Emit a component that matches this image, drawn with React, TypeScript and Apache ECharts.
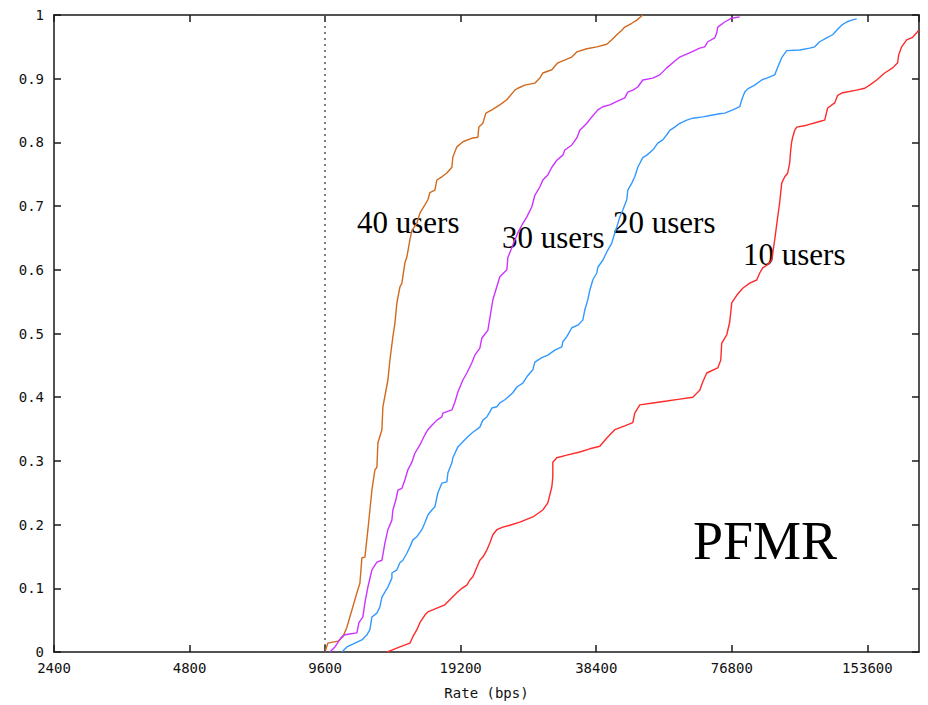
import React, { useEffect, useRef } from "react";
import * as echarts from "echarts";

// Rate axis (bps), drawn on a base-2 logarithmic scale
const RATE_TICKS = [2400, 4800, 9600, 19200, 38400, 76800, 153600];
const RATE_MAX = 200000;
const REFERENCE_RATE = 9600;
const CDF_TICKS = [0, 0.1, 0.2, 0.3, 0.4, 0.5, 0.6, 0.7, 0.8, 0.9, 1];

// Cumulative distribution of per-user rate: [rate (bps), fraction of users]
const USERS_40: [number, number][] = [
  [9590, 0], [9738, 0.014], [10249, 0.017], [10514, 0.024], [10731, 0.039], [11009, 0.066],
  [11294, 0.093], [11468, 0.108], [11586, 0.148], [11765, 0.149], [11947, 0.192], [12070, 0.223],
  [12194, 0.254], [12383, 0.286], [12510, 0.29], [12574, 0.328], [12834, 0.349], [12899, 0.385],
  [13233, 0.427], [13369, 0.458], [13576, 0.495], [13715, 0.516], [13856, 0.548], [14070, 0.573],
  [14215, 0.579], [14434, 0.611], [14582, 0.62], [14808, 0.647], [14960, 0.662], [15347, 0.673],
  [15585, 0.689], [15989, 0.702], [16235, 0.71], [16402, 0.721], [16827, 0.725], [17000, 0.741],
  [17439, 0.746], [17891, 0.752], [18354, 0.761], [18448, 0.777], [18829, 0.793], [19415, 0.801],
  [20433, 0.807], [20962, 0.808], [21069, 0.824], [21504, 0.83], [21837, 0.846], [22517, 0.851],
  [23456, 0.859], [24311, 0.867], [25325, 0.882], [25716, 0.885], [26654, 0.89], [28051, 0.893],
  [28777, 0.901], [29222, 0.909], [30597, 0.914], [31550, 0.925], [33890, 0.934], [34767, 0.942],
  [36590, 0.947], [38508, 0.95], [40528, 0.954], [41576, 0.961], [42652, 0.969], [43757, 0.976],
  [44432, 0.981], [46051, 0.987], [47242, 0.992], [48714, 1],
];

const USERS_30: [number, number][] = [
  [9838, 0], [10093, 0.008], [10460, 0.024], [10622, 0.027], [11294, 0.03], [11410, 0.046],
  [11645, 0.055], [11765, 0.077], [11947, 0.102], [12194, 0.129], [12510, 0.141], [12834, 0.144],
  [13032, 0.171], [13233, 0.192], [13506, 0.207], [13576, 0.223], [13785, 0.239], [13927, 0.254],
  [14215, 0.257], [14434, 0.27], [14657, 0.286], [14960, 0.298], [15191, 0.312], [15585, 0.325],
  [15989, 0.341], [16235, 0.349], [16571, 0.356], [17000, 0.364], [17439, 0.369], [17529, 0.375],
  [18354, 0.38], [18637, 0.392], [18925, 0.408], [19415, 0.427], [19817, 0.438], [20329, 0.454],
  [20643, 0.466], [21177, 0.477], [21395, 0.493], [22061, 0.505], [22633, 0.553], [23456, 0.589],
  [24311, 0.6], [24435, 0.619], [25068, 0.639], [25716, 0.658], [26383, 0.673], [26927, 0.683],
  [27624, 0.699], [28051, 0.717], [28777, 0.73], [29222, 0.741], [29978, 0.749], [30597, 0.761],
  [31389, 0.772], [32367, 0.78], [32699, 0.788], [33890, 0.796], [34767, 0.807], [35304, 0.819],
  [36590, 0.83], [37537, 0.84], [38706, 0.851], [39707, 0.856], [41153, 0.859], [42219, 0.863],
  [44432, 0.87], [45119, 0.879], [46287, 0.882], [47484, 0.887], [48714, 0.898], [51267, 0.901],
  [53134, 0.906], [55070, 0.917], [56785, 0.925], [58852, 0.934], [62575, 0.942], [65186, 0.948],
  [66873, 0.95], [67906, 0.958], [70380, 0.964], [71103, 0.972], [71467, 0.981], [74070, 0.989],
  [76768, 0.995], [79971, 0.997],
];

const USERS_20: [number, number][] = [
  [10460, 0], [10731, 0.008], [11179, 0.014], [11586, 0.019], [11886, 0.027], [12070, 0.035],
  [12194, 0.055], [12510, 0.061], [12703, 0.071], [12834, 0.086], [13032, 0.094], [13233, 0.102],
  [13506, 0.116], [13506, 0.124], [13856, 0.129], [14070, 0.14], [14287, 0.144], [14582, 0.155],
  [14808, 0.165], [15037, 0.176], [15347, 0.181], [15745, 0.192], [15989, 0.203], [16235, 0.215],
  [16571, 0.223], [16827, 0.228], [17087, 0.25], [17439, 0.265], [17891, 0.267], [17983, 0.281],
  [18354, 0.297], [18448, 0.305], [18925, 0.322], [19415, 0.33], [19918, 0.338], [20433, 0.345],
  [21177, 0.353], [21504, 0.364], [21948, 0.369], [22288, 0.377], [22517, 0.383], [23100, 0.385],
  [23456, 0.391], [24063, 0.396], [24435, 0.4], [25068, 0.407], [25585, 0.416], [26383, 0.422],
  [26927, 0.432], [27766, 0.443], [28051, 0.455], [29073, 0.462], [29978, 0.466], [31070, 0.474],
  [32202, 0.479], [32367, 0.487], [33035, 0.495], [33890, 0.509], [34945, 0.513], [35850, 0.521],
  [36218, 0.537], [36777, 0.553], [37155, 0.568], [37729, 0.584], [38508, 0.595], [38706, 0.604],
  [39707, 0.615], [40735, 0.631], [41576, 0.642], [42219, 0.658], [42652, 0.667], [43311, 0.683],
  [43981, 0.694], [44889, 0.71], [45119, 0.725], [46051, 0.736], [46762, 0.746], [47484, 0.761],
  [48714, 0.776], [49720, 0.78], [51267, 0.788], [52594, 0.799], [53955, 0.804], [55070, 0.812],
  [55920, 0.819], [57368, 0.824], [58852, 0.83], [60996, 0.835], [62895, 0.838], [66193, 0.84],
  [69664, 0.843], [72201, 0.845], [74070, 0.846], [77162, 0.851], [79971, 0.856], [80793, 0.867],
  [82041, 0.879], [83309, 0.884], [86343, 0.89], [89488, 0.898], [91803, 0.901], [95635, 0.906],
  [97112, 0.918], [99118, 0.933], [101683, 0.944], [108667, 0.945], [114364, 0.948], [117326, 0.95],
  [120361, 0.958], [124746, 0.964], [128628, 0.969], [131286, 0.976], [134684, 0.984], [138170, 0.989],
  [141746, 0.992], [145415, 0.994],
];

const USERS_10: [number, number][] = [
  [13166, 0], [13506, 0.003], [14070, 0.008], [14808, 0.014], [15037, 0.024], [15347, 0.035],
  [15585, 0.046], [15989, 0.058], [16235, 0.063], [17000, 0.069], [17709, 0.074], [18167, 0.082],
  [18829, 0.093], [19316, 0.1], [19817, 0.105], [20122, 0.113], [20433, 0.118], [20855, 0.133],
  [21177, 0.144], [21504, 0.149], [21948, 0.16], [22288, 0.171], [22633, 0.184], [23100, 0.192],
  [23819, 0.196], [24686, 0.199], [25981, 0.204], [27766, 0.212], [29222, 0.223], [29978, 0.234],
  [30597, 0.259], [30754, 0.275], [30754, 0.298], [31389, 0.305], [33035, 0.309], [35304, 0.314],
  [37155, 0.319], [39103, 0.323], [40528, 0.336], [42219, 0.349], [44432, 0.355], [46287, 0.36],
  [46762, 0.375], [47972, 0.388], [51267, 0.391], [55070, 0.394], [58852, 0.397], [62895, 0.4],
  [65186, 0.411], [66193, 0.424], [67561, 0.438], [71467, 0.446], [72571, 0.458], [72943, 0.485],
  [74831, 0.498], [75987, 0.518], [76768, 0.548], [78755, 0.56], [81207, 0.571], [84164, 0.579],
  [87230, 0.584], [88577, 0.595], [89946, 0.603], [92273, 0.608], [94180, 0.615], [95635, 0.647],
  [97112, 0.683], [98109, 0.706], [99118, 0.736], [100650, 0.746], [102204, 0.752], [103253, 0.768],
  [103783, 0.788], [104313, 0.801], [104849, 0.808], [105926, 0.819], [107014, 0.824], [112626, 0.827],
  [119138, 0.832], [123478, 0.835], [124746, 0.848], [125385, 0.854], [129951, 0.862], [131957, 0.874],
  [135373, 0.878], [145415, 0.882], [151483, 0.885], [155402, 0.89], [161063, 0.898], [167784, 0.909],
  [174788, 0.917], [179309, 0.925], [180228, 0.937], [183013, 0.95], [187750, 0.961], [193597, 0.965],
  [197595, 0.972], [199625, 0.976],
];

const SERIES_NAMES = ["40 users", "30 users", "20 users", "10 users"];
const SERIES_DATA = [USERS_40, USERS_30, USERS_20, USERS_10];
const SERIES_COLORS = ["#d2691e", "#cc33ff", "#3399ff", "#ff2a2a"];

const BASE = RATE_TICKS[0];
const toLog = (rate: number) => Math.log2(rate / BASE);

const MONO = '"DejaVu Sans Mono", "Liberation Mono", monospace';
const SERIF = '"Liberation Serif", "Times New Roman", serif';
const AXIS_COLOR = "#1a1a1a";

function rateLabel(v: number): string {
  const r = Math.round(BASE * Math.pow(2, v));
  return RATE_TICKS.includes(r) ? String(r) : "";
}

function cdfLabel(v: number): string {
  const t = CDF_TICKS.find((c) => Math.abs(c - v) < 1e-6);
  return t === undefined ? "" : String(t);
}

export default function App() {
  const ref = useRef<HTMLDivElement>(null);

  useEffect(() => {
    if (!ref.current) return;
    const chart = echarts.init(ref.current, undefined, { renderer: "svg" });

    const xMax = toLog(RATE_MAX);
    const axisLine = { show: true, onZero: false, lineStyle: { color: AXIS_COLOR, width: 1.5 } };
    const axisTick = { show: true, inside: true, length: 7, lineStyle: { color: AXIS_COLOR, width: 1.5 } };

    const lineSeries = SERIES_DATA.map((data, i) => ({
      name: SERIES_NAMES[i],
      type: "line",
      data: data.map(([rate, frac]) => [toLog(rate), frac]),
      showSymbol: false,
      symbol: "none",
      clip: true,
      lineStyle: { color: SERIES_COLORS[i], width: 1.4 },
      itemStyle: { color: SERIES_COLORS[i] },
      z: 3,
    }));

    const refLine = {
      name: "reference",
      type: "line",
      data: [],
      markLine: {
        silent: true,
        symbol: ["none", "none"],
        label: { show: false },
        lineStyle: { color: "#555", type: [2, 4], width: 1.5 },
        data: [{ xAxis: toLog(REFERENCE_RATE) }],
      },
      z: 2,
    };

    chart.setOption({
      animation: false,
      backgroundColor: "#ffffff",
      grid: { left: 54, right: 9, top: 15, bottom: 53, containLabel: false },
      xAxis: [
        {
          type: "value",
          position: "bottom",
          min: 0,
          max: xMax,
          interval: 1,
          axisLine,
          axisTick,
          splitLine: { show: false },
          axisLabel: {
            formatter: rateLabel,
            fontFamily: MONO,
            fontSize: 14,
            color: "#111",
            margin: 9,
            showMaxLabel: false,
          },
          name: "Rate (bps)",
          nameLocation: "middle",
          nameGap: 34,
          nameTextStyle: { fontFamily: MONO, fontSize: 14, color: "#111" },
        },
        {
          type: "value",
          position: "top",
          min: 0,
          max: xMax,
          interval: 1,
          axisLine,
          axisTick,
          splitLine: { show: false },
          axisLabel: { show: false },
        },
      ],
      yAxis: [
        {
          type: "value",
          position: "left",
          min: 0,
          max: 1,
          interval: 0.1,
          axisLine,
          axisTick,
          splitLine: { show: false },
          axisLabel: {
            formatter: cdfLabel,
            fontFamily: MONO,
            fontSize: 14,
            color: "#111",
            margin: 10,
          },
        },
        {
          type: "value",
          position: "right",
          min: 0,
          max: 1,
          interval: 0.1,
          axisLine,
          axisTick,
          splitLine: { show: false },
          axisLabel: { show: false },
        },
      ],
      series: [refLine, ...lineSeries],
      graphic: [
        { type: "text", x: 357, y: 222.5, style: { text: SERIES_NAMES[0], font: `31px ${SERIF}`, fill: "#000", verticalAlign: "middle" } },
        { type: "text", x: 502, y: 237.5, style: { text: SERIES_NAMES[1], font: `31px ${SERIF}`, fill: "#000", verticalAlign: "middle" } },
        { type: "text", x: 613, y: 222.5, style: { text: SERIES_NAMES[2], font: `31px ${SERIF}`, fill: "#000", verticalAlign: "middle" } },
        { type: "text", x: 743, y: 254.5, style: { text: SERIES_NAMES[3], font: `31px ${SERIF}`, fill: "#000", verticalAlign: "middle" } },
        { type: "text", x: 693, y: 541, style: { text: "PFMR", font: `54px ${SERIF}`, fill: "#000", verticalAlign: "middle" } },
      ],
    });

    return () => chart.dispose();
  }, []);

  return (
    <div
      ref={ref}
      style={{ position: "fixed", left: 0, top: 0, width: 928, height: 705, background: "#fff" }}
    />
  );
}
